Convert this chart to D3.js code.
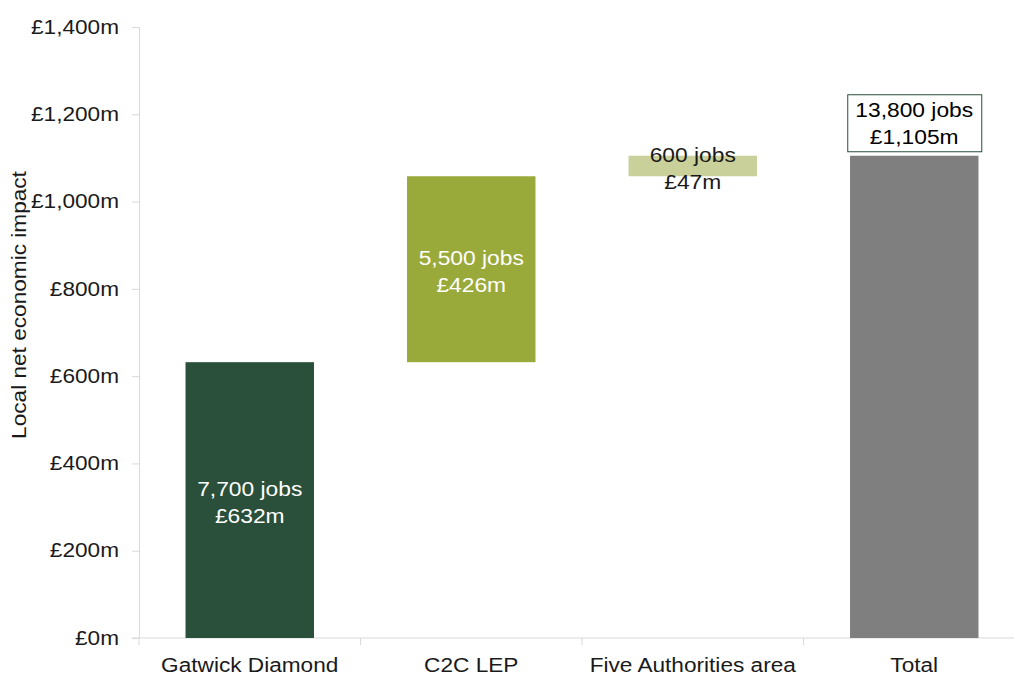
<!DOCTYPE html>
<html>
<head>
<meta charset="utf-8">
<script src="https://cdn.jsdelivr.net/npm/d3@7"></script>
<style>
  html, body { margin: 0; padding: 0; background: #fff; }
  svg { display: block; font-family: "Liberation Sans", Arial, sans-serif; }
</style>
</head>
<body>
<svg id="chart" width="1014" height="675"></svg>
<script>
// ---- Data ----
const categories = ["Gatwick Diamond", "C2C LEP", "Five Authorities area", "Total"];
const values = [632, 426, 47, 1105];          // £m
const jobs = ["7,700 jobs", "5,500 jobs", "600 jobs", "13,800 jobs"];
const valueLabels = ["£632m", "£426m", "£47m", "£1,105m"];
const isTotal = [false, false, false, true];
const colors = ["#2a4f3a", "#9aaa3a", "#c9d09a", "#7f7f7f"];
const labelColors = ["#ffffff", "#ffffff", "#1a1a1a", "#000000"];
const yTicks = [0, 200, 400, 600, 800, 1000, 1200, 1400];
const yTitle = "Local net economic impact";

(function () {
function widen(sel, k) {
  sel.each(function () {
    const w = this.getComputedTextLength();
    d3.select(this).attr("textLength", w * k).attr("lengthAdjust", "spacingAndGlyphs");
  });
}

let running = 0;
const bars = categories.map((c, i) => {
  let start, end;
  if (isTotal[i]) { start = 0; end = values[i]; }
  else { start = running; end = running + values[i]; running = end; }
  return { cat: c, start, end, i };
});

const svg = d3.select("#chart");
const mLeft = 139, mRight = 1025, mTop = 27, mBottom = 638;

const x = d3.scaleBand().domain(categories).range([mLeft, mRight]).paddingInner(0.42).paddingOuter(0.21);
const xb = d3.scaleBand().domain(categories).range([mLeft, mRight]).padding(0);
const y = d3.scaleLinear().domain([0, 1400]).range([mBottom, mTop]);

// y axis
const yAxis = d3.axisLeft(y).tickValues(yTicks).tickSize(7).tickPadding(13)
  .tickFormat(d => "£" + d3.format(",")(d) + "m");
const gy = svg.append("g").attr("transform", `translate(${mLeft},0)`).call(yAxis);
gy.select(".domain").attr("stroke", "#d9d9d9");
gy.selectAll(".tick line").attr("stroke", "#d9d9d9");
const tickTexts = gy.selectAll(".tick text").attr("font-size", 19.5).attr("fill", "#1a1a1a")
  .attr("font-family", "Liberation Sans, Arial, sans-serif");
widen(tickTexts, 1.16);

// x axis line + boundary ticks
svg.append("line").attr("x1", mLeft - 7).attr("x2", mRight).attr("y1", mBottom).attr("y2", mBottom)
  .attr("stroke", "#d9d9d9");
categories.forEach((c) => {
  const xx = xb(c);
  svg.append("line").attr("x1", xx).attr("x2", xx).attr("y1", mBottom).attr("y2", mBottom + 7)
    .attr("stroke", "#d9d9d9");
});
const xl = svg.selectAll(".xlab").data(categories).enter().append("text")
  .attr("x", d => xb(d) + xb.bandwidth() / 2).attr("y", 672)
  .attr("text-anchor", "middle").attr("font-size", 19.5).attr("fill", "#1a1a1a")
  .text(d => d);
widen(xl, 1.16);

// y title
svg.append("text").attr("transform", `translate(26,305) rotate(-90)`)
  .attr("text-anchor", "middle").attr("font-size", 19.5).attr("fill", "#1a1a1a").text(yTitle)
  .call(s => s.attr("textLength", s.node().getComputedTextLength() * 1.16).attr("lengthAdjust", "spacingAndGlyphs"));

// bars
svg.selectAll(".bar").data(bars).enter().append("rect")
  .attr("x", d => x(d.cat)).attr("width", x.bandwidth())
  .attr("y", d => y(d.end)).attr("height", d => y(d.start) - y(d.end))
  .attr("fill", d => colors[d.i]);

// labels
bars.forEach(d => {
  const cx = x(d.cat) + x.bandwidth() / 2;
  let cy;
  if (isTotal[d.i]) {
    cy = y(d.end) - 33;
    const bw = 134, bh = 57;
    svg.append("rect").attr("x", cx - bw / 2 + 0.5).attr("y", cy - bh / 2 + 0.5)
      .attr("width", bw).attr("height", bh).attr("fill", "#fff")
      .attr("stroke", "#2a4f3a").attr("stroke-width", 1);
  } else {
    cy = (y(d.start) + y(d.end)) / 2 + 2;
  }
  const l1 = svg.append("text").attr("text-anchor", "middle").attr("font-size", 20)
    .attr("fill", labelColors[d.i]).attr("x", cx).attr("y", cy - 6).text(jobs[d.i]);
  const l2 = svg.append("text").attr("text-anchor", "middle").attr("font-size", 20)
    .attr("fill", labelColors[d.i]).attr("x", cx).attr("y", cy + 21).text(valueLabels[d.i]);
  widen(l1, 1.14);
  widen(l2, 1.14);
});
})();
</script>
</body>
</html>
